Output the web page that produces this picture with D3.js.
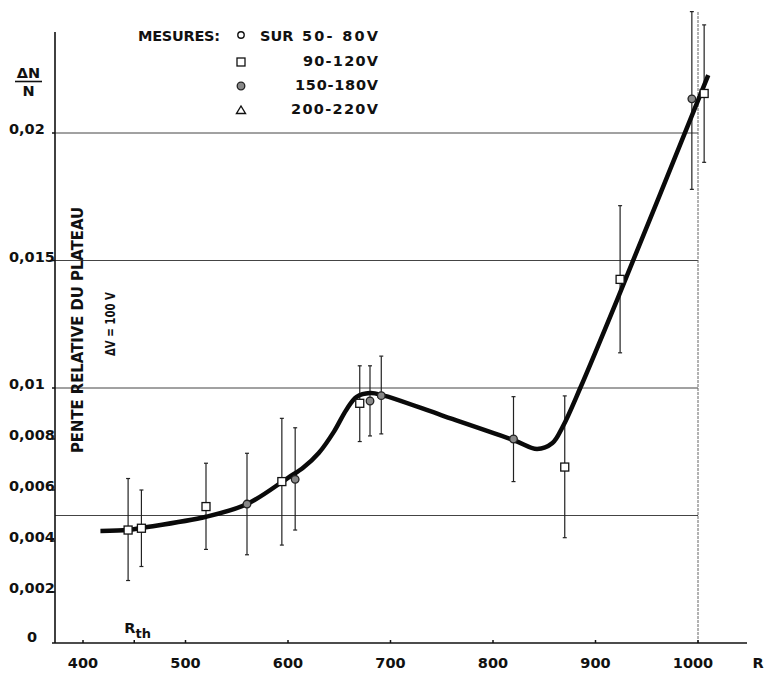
<!DOCTYPE html>
<html>
<head>
<meta charset="utf-8">
<script src="https://cdn.jsdelivr.net/npm/d3@7"></script>
<style>
  body { margin: 0; background: #fff; }
  text { font-family: "DejaVu Sans", sans-serif; font-weight: bold; fill: #111; }
</style>
</head>
<body>
<svg id="graph" width="764" height="674"></svg>
<script>
// DATA

const R_TICKS = [400, 500, 600, 700, 800, 900, 1000];
const Y_TICKS = [0, 0.002, 0.004, 0.006, 0.008, 0.01, 0.015, 0.02];
const Y_TICK_LABELS = ['0', '0,002', '0,004', '0,006', '0,008', '0,01', '0,015', '0,02'];
const GRID_VALUES = [0.005, 0.01, 0.015, 0.02];
const R_TH = 450;

// 90-120 V (squares)
const SQUARE_R = [444, 457, 520, 594, 670, 870, 924, 1006];
const SQUARE_V = [0.00443, 0.0045, 0.00535, 0.00633, 0.0094, 0.0069, 0.01426, 0.02155];
const SQUARE_LOW = [0.00245, 0.003, 0.00367, 0.00384, 0.0079, 0.00413, 0.01138, 0.01885];
const SQUARE_HIGH = [0.00645, 0.006, 0.00705, 0.00881, 0.01087, 0.00969, 0.01715, 0.02424];

// 150-180 V (dots)
const DOT_R = [560, 607, 680, 691, 820, 994];
const DOT_V = [0.00545, 0.00642, 0.00949, 0.0097, 0.0080, 0.02134];
const DOT_LOW = [0.00346, 0.00443, 0.00812, 0.0082, 0.00633, 0.01779];
const DOT_HIGH = [0.00744, 0.00844, 0.01087, 0.01125, 0.00966, 0.02476];

// fitted curve
const CURVE_R = [417, 444, 457, 520, 560, 600, 615, 630, 645, 657, 667, 680, 692,
                 750, 820, 843, 858, 868, 885, 921, 1010];
const CURVE_V = [0.00439, 0.00443, 0.00451, 0.00495, 0.00545, 0.00648, 0.00688, 0.00745, 0.0083, 0.00915,
                 0.00965, 0.0098, 0.00972, 0.00893, 0.00796, 0.00761, 0.00784, 0.00848, 0.00999, 0.01345, 0.02227];

const LEGEND_LABELS = ['50- 80V', '90-120V', '150-180V', '200-220V'];
const LEGEND_SYMBOLS = ['circle', 'square', 'dot', 'triangle'];

// LAYOUT

const GRAPH = d3.select('#graph');
const AXIS_X = 55;
const AXIS_Y = 643;
const AXIS_TOP = 32;
const AXIS_RIGHT = 747;

const x = d3.scaleLinear().domain([400, 1000]).range([83, 698]);
const y = d3.scaleLinear().domain([0, 0.02]).range([643, 133]);

// gridlines
GRAPH.selectAll('line.grid')
  .data(GRID_VALUES)
  .join('line')
  .attr('class', 'grid')
  .attr('x1', AXIS_X)
  .attr('x2', x(1000))
  .attr('y1', d => y(d))
  .attr('y2', d => y(d))
  .attr('stroke', '#444')
  .attr('stroke-width', 1);

GRAPH.append('line')
  .attr('x1', x(1000))
  .attr('x2', x(1000))
  .attr('y1', 12)
  .attr('y2', AXIS_Y)
  .attr('stroke', '#666')
  .attr('stroke-width', 1)
  .attr('stroke-dasharray', '3,1');

// axes
GRAPH.append('line')
  .attr('x1', AXIS_X).attr('x2', AXIS_X)
  .attr('y1', AXIS_TOP).attr('y2', AXIS_Y)
  .attr('stroke', '#111').attr('stroke-width', 1.6);

GRAPH.append('line')
  .attr('x1', AXIS_X).attr('x2', AXIS_RIGHT)
  .attr('y1', AXIS_Y).attr('y2', AXIS_Y)
  .attr('stroke', '#111').attr('stroke-width', 1.6);

GRAPH.selectAll('line.xtick')
  .data(R_TICKS.concat([R_TH]))
  .join('line')
  .attr('class', 'xtick')
  .attr('x1', d => x(d)).attr('x2', d => x(d))
  .attr('y1', AXIS_Y).attr('y2', AXIS_Y - 3)
  .attr('stroke', '#111').attr('stroke-width', 1.5);

GRAPH.selectAll('text.xlabel')
  .data(R_TICKS)
  .join('text')
  .attr('class', 'xlabel')
  .attr('x', d => x(d) - (d === 1000 ? 5 : 0))
  .attr('y', 668)
  .attr('text-anchor', 'middle')
  .attr('font-size', 14.5)
  .text(d => d);

GRAPH.append('text')
  .attr('x', 758).attr('y', 668)
  .attr('text-anchor', 'middle')
  .attr('font-size', 14.5)
  .text('R');

GRAPH.selectAll('line.ytick')
  .data(Y_TICKS)
  .join('line')
  .attr('class', 'ytick')
  .attr('x1', AXIS_X - 3).attr('x2', AXIS_X)
  .attr('y1', d => y(d)).attr('y2', d => y(d))
  .attr('stroke', '#111').attr('stroke-width', 1.5);

GRAPH.selectAll('text.ylabel')
  .data(Y_TICKS)
  .join('text')
  .attr('class', 'ylabel')
  .attr('x', d => d === 0 ? 27 : 9)
  .attr('y', d => y(d) + (d === 0 ? -1 : 1))
  .attr('font-size', 14.5)
  .text((d, i) => Y_TICK_LABELS[i]);

// R_th
const rth = GRAPH.append('text')
  .attr('x', x(R_TH) - 10)
  .attr('y', 633)
  .attr('font-size', 14.5);
rth.append('tspan').text('R');
rth.append('tspan').attr('dy', 5).attr('font-size', 13).text('th');

// dN/N
GRAPH.append('text')
  .attr('x', 28.5).attr('y', 78)
  .attr('text-anchor', 'middle')
  .attr('font-size', 14.5)
  .text('ΔN');
GRAPH.append('line')
  .attr('x1', 15).attr('x2', 42)
  .attr('y1', 81.5).attr('y2', 81.5)
  .attr('stroke', '#111').attr('stroke-width', 1.6);
GRAPH.append('text')
  .attr('x', 28.5).attr('y', 96)
  .attr('text-anchor', 'middle')
  .attr('font-size', 14.5)
  .text('N');

// rotated titles
GRAPH.append('text')
  .attr('transform', 'translate(83,330) rotate(-90)')
  .attr('text-anchor', 'middle')
  .attr('font-size', 15)
  .attr('textLength', 246)
  .attr('lengthAdjust', 'spacingAndGlyphs')
  .text('PENTE  RELATIVE  DU  PLATEAU');

GRAPH.append('text')
  .attr('transform', 'translate(115,324) rotate(-90)')
  .attr('text-anchor', 'middle')
  .attr('font-size', 14)
  .attr('textLength', 64)
  .attr('lengthAdjust', 'spacingAndGlyphs')
  .text('ΔV = 100 V');

// legend
GRAPH.append('text')
  .attr('x', 138).attr('y', 41)
  .attr('font-size', 14.5)
  .attr('textLength', 82)
  .text('MESURES:');
GRAPH.append('text')
  .attr('x', 260).attr('y', 41)
  .attr('font-size', 14.5)
  .text('SUR');

const LEGEND_Y = [35, 60, 84, 108];
const LEGEND_LEN = [76, 75, 83, 87];

GRAPH.selectAll('text.legend')
  .data(LEGEND_LABELS)
  .join('text')
  .attr('class', 'legend')
  .attr('x', 378)
  .attr('y', (d, i) => LEGEND_Y[i] + 5.5)
  .attr('text-anchor', 'end')
  .attr('font-size', 14.5)
  .attr('textLength', (d, i) => LEGEND_LEN[i])
  .attr('lengthAdjust', 'spacing')
  .text(d => d);

function drawSymbol(sel, type, cx, cy) {
  if (type === 'square') {
    sel.append('rect')
      .attr('x', cx - 4).attr('y', cy - 4)
      .attr('width', 8).attr('height', 8)
      .attr('fill', '#fff').attr('stroke', '#111').attr('stroke-width', 1.3);
  } else if (type === 'dot') {
    sel.append('circle')
      .attr('cx', cx).attr('cy', cy).attr('r', 3.8)
      .attr('fill', '#888').attr('stroke', '#222').attr('stroke-width', 1.3);
  } else if (type === 'circle') {
    sel.append('circle')
      .attr('cx', cx).attr('cy', cy).attr('r', 3.2)
      .attr('fill', '#fff').attr('stroke', '#111').attr('stroke-width', 1.4);
  } else {
    sel.append('path')
      .attr('d', `M${cx},${cy - 4} L${cx + 4.5},${cy + 3.5} L${cx - 4.5},${cy + 3.5} Z`)
      .attr('fill', '#fff').attr('stroke', '#111').attr('stroke-width', 1.4);
  }
}

LEGEND_SYMBOLS.forEach((s, i) => drawSymbol(GRAPH, s, 241, LEGEND_Y[i] + (i === 0 ? 0 : 2)));

// error bars
const points = SQUARE_R.map((r, i) => ({ r, v: SQUARE_V[i], lo: SQUARE_LOW[i], hi: SQUARE_HIGH[i], type: 'square' }))
  .concat(DOT_R.map((r, i) => ({ r, v: DOT_V[i], lo: DOT_LOW[i], hi: DOT_HIGH[i], type: 'dot' })));

const bars = GRAPH.append('g').attr('stroke', '#222').attr('stroke-width', 1.2);
bars.selectAll('line.err')
  .data(points)
  .join('line')
  .attr('class', 'err')
  .attr('x1', d => x(d.r)).attr('x2', d => x(d.r))
  .attr('y1', d => y(d.lo)).attr('y2', d => y(d.hi));
bars.selectAll('line.caplo')
  .data(points)
  .join('line')
  .attr('class', 'caplo')
  .attr('x1', d => x(d.r) - 2).attr('x2', d => x(d.r) + 2)
  .attr('y1', d => y(d.lo)).attr('y2', d => y(d.lo));
bars.selectAll('line.caphi')
  .data(points)
  .join('line')
  .attr('class', 'caphi')
  .attr('x1', d => x(d.r) - 2).attr('x2', d => x(d.r) + 2)
  .attr('y1', d => y(d.hi)).attr('y2', d => y(d.hi));

// curve
const line = d3.line()
  .x(d => x(d[0]))
  .y(d => y(d[1]))
  .curve(d3.curveCatmullRom.alpha(0.5));

GRAPH.append('path')
  .datum(CURVE_R.map((r, i) => [r, CURVE_V[i]]))
  .attr('d', line)
  .attr('fill', 'none')
  .attr('stroke', '#0a0a0a')
  .attr('stroke-width', 4.5);

// markers
const marks = GRAPH.append('g');
points.forEach(p => drawSymbol(marks, p.type, x(p.r), y(p.v)));
</script>
</body>
</html>
